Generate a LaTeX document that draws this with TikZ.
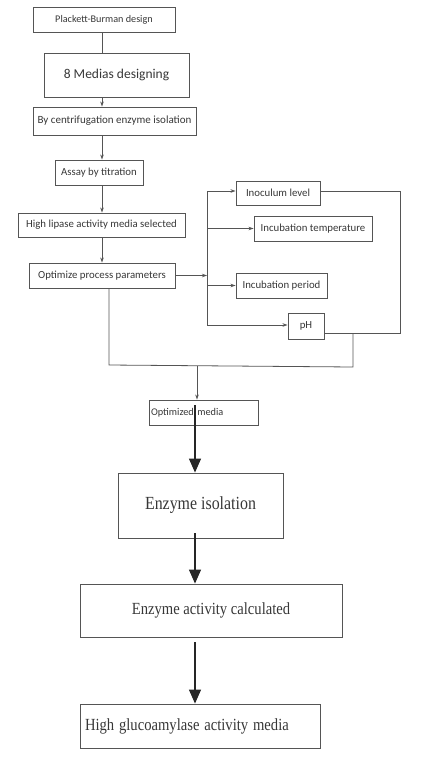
\documentclass[tikz,border=0pt]{standalone}
\usepackage{fontspec}
\usepackage{graphicx}
\setmainfont{Liberation Serif}
\newfontfamily\calfnt{Carlito}
\newfontfamily\tmsfnt{Liberation Serif}
\usetikzlibrary{arrows.meta}
\definecolor{ln}{RGB}{85,85,85}
\definecolor{tx}{RGB}{55,55,55}
\newcommand{\sqz}[1]{\scalebox{0.86}[1]{#1}}
\begin{document}
\begin{tikzpicture}[x=1pt,y=-1pt,
  box/.style={draw=ln,line width=0.9pt,inner sep=0pt,text=tx},
  sm/.style={box,font=\calfnt\fontsize{10.8}{12}\selectfont},
  big/.style={box,font=\tmsfnt\fontsize{17}{19}\selectfont},
  thin/.style={draw=ln,line width=0.8pt},
  sarr/.style={thin,-{Stealth[length=5pt,width=3.5pt]}},
  barr/.style={draw=black!85,line width=1.3pt,-{Triangle[length=14pt,width=12pt]}}]
\useasboundingbox (0,0) rectangle (446,761);
\node[sm,font=\calfnt\fontsize{10.2}{12}\selectfont,minimum width=142,minimum height=25] (pb) at (104,19.5) {Plackett-Burman design};
\node[box,font=\calfnt\fontsize{13.5}{16}\selectfont,minimum width=145,minimum height=44] (med) at (116.5,75) {8 Medias designing};
\node[sm,font=\calfnt\fontsize{11}{12}\selectfont,minimum width=163,minimum height=28] (cen) at (114.5,121) {By centrifugation enzyme isolation};
\node[sm,minimum width=88,minimum height=25] (as) at (99,172.5) {Assay by titration};
\node[sm,minimum width=167,minimum height=24] (lip) at (101.5,225) {High lipase activity media selected};
\node[sm,minimum width=146,minimum height=25] (opt) at (102,275.5) {Optimize process parameters};
\node[sm,minimum width=84,minimum height=24] (ino) at (278,193) {Inoculum level};
\node[sm,minimum width=118,minimum height=25] (tmp) at (313,228.5) {Incubation temperature};
\node[sm,minimum width=91,minimum height=25] (per) at (281.5,285.5) {Incubation period};
\node[sm,minimum width=36,minimum height=26] (ph) at (306,326) {pH};
\node[box,font=\calfnt\fontsize{10.3}{12}\selectfont,minimum width=109,minimum height=25,text width=105,align=left] (om) at (203.5,412.5) {Optimized media};
\node[big,font=\tmsfnt\fontsize{18.5}{20}\selectfont,minimum width=165,minimum height=65] (ei) at (200.5,505.5) {\sqz{Enzyme isolation}};
\node[big,minimum width=262,minimum height=53] (eac) at (211,610.5) {\sqz{Enzyme activity calculated}};
\node[big,minimum width=240,minimum height=44,text width=230,align=left] (hg) at (200,726) {\sqz{High glucoamylase activity media}};
% coordinates
\coordinate (cx) at (102,0);
\coordinate (ax) at (195,0);
\coordinate (bt) at (207,191);
\coordinate (bb) at (207,325);
\coordinate (rt) at (400,191);
\coordinate (rb) at (400,333);
\coordinate (jn) at (353,333);
\coordinate (jb) at (353,367);
\coordinate (lb) at (109,365);
\coordinate (md) at (197,366);
\coordinate (a1) at (195,405);
\coordinate (a2) at (195,533);
\coordinate (a3) at (195,642);
% main chain
\draw[thin] (pb.south -| cx) -- (med.north -| cx);
\draw[sarr] (med.south -| cx) -- (cen.north -| cx);
\draw[sarr] (cen.south -| cx) -- (as.north -| cx);
\draw[sarr] (as.south -| cx) -- (lip.north -| cx);
\draw[sarr] (lip.south -| cx) -- (opt.north -| cx);
\draw[sarr] (opt.east) -- (opt.east -| bt);
\draw[thin] (bt) -- (bb);
\draw[sarr] (bt) -- (bt -| ino.west);
\draw[sarr] (bt |- tmp.west) -- (tmp.west);
\draw[sarr] (bt |- per.west) -- (per.west);
\draw[sarr] (bb) -- (bb -| ph.west);
\draw[thin] (ino.east |- rt) -- (rt) -- (rb) -- (rb -| ph.east);
\draw[thin] (jn) -- (jb) -- (lb) -- (lb |- opt.south);
\draw[sarr] (md) -- (md |- om.north);
\draw[barr] (a1) -- (ei.north -| ax);
\draw[barr] (a2) -- (eac.north -| ax);
\draw[barr] (a3) -- (hg.north -| ax);
\end{tikzpicture}
\end{document}
